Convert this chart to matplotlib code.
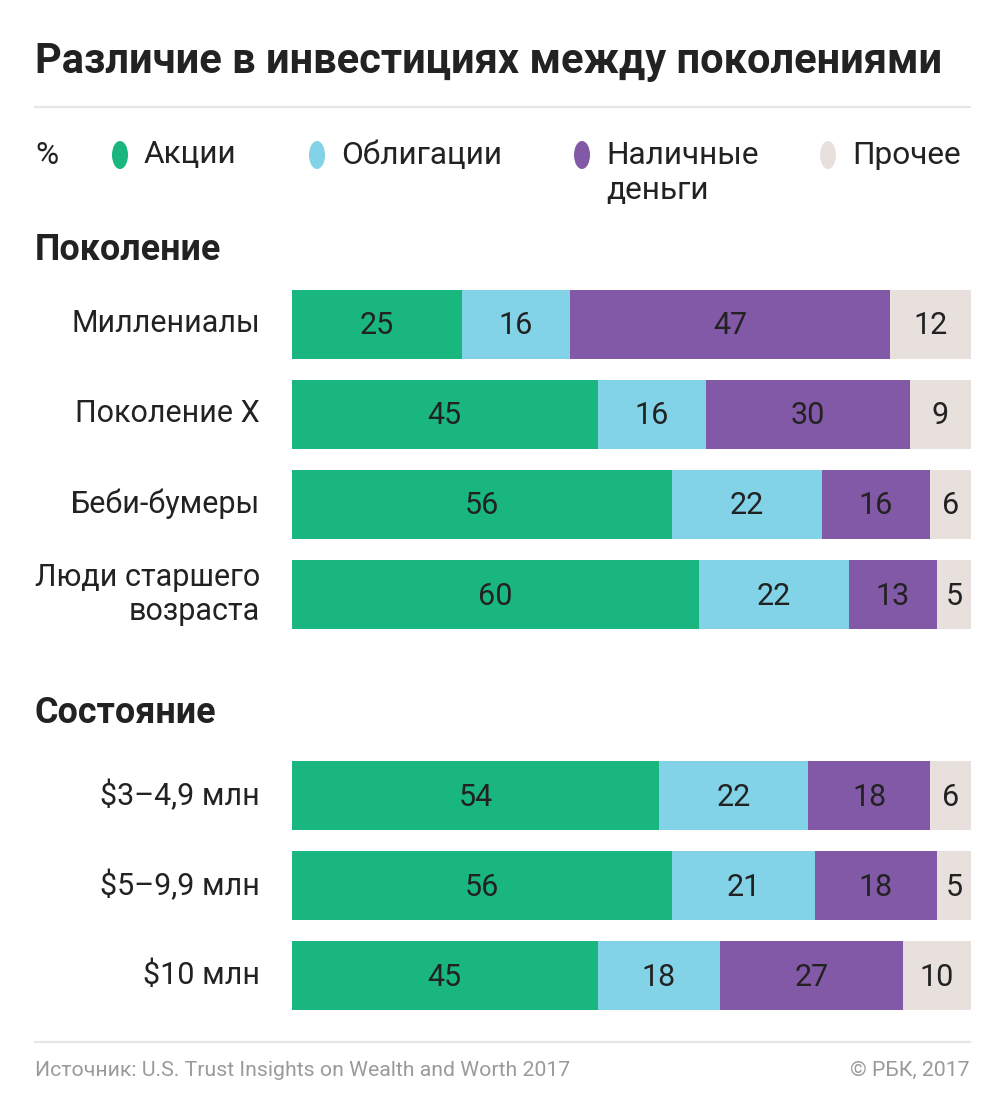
import matplotlib
matplotlib.use("Agg")
import matplotlib.pyplot as plt
from matplotlib.patches import Ellipse
from matplotlib.lines import Line2D

plt.rcParams['font.family'] = ['Roboto', 'DejaVu Sans']

# ---------------- data ----------------
series = ["Акции", "Облигации", "Наличные\nденьги", "Прочее"]
colors = ["#19b77f", "#82d3e8", "#8259a6", "#e8e0dc"]

gen_labels = ["Миллениалы", "Поколение X", "Беби-бумеры", "Люди старшего\nвозраста"]
gen_stocks = [25, 45, 56, 60]
gen_bonds = [16, 16, 22, 22]
gen_cash = [47, 30, 16, 13]
gen_other = [12, 9, 6, 5]

wealth_labels = ["$3–4,9 млн", "$5–9,9 млн", "$10 млн"]
wealth_stocks = [54, 56, 45]
wealth_bonds = [22, 21, 18]
wealth_cash = [18, 18, 27]
wealth_other = [6, 5, 10]

title = "Различие в инвестициях между поколениями"
section1 = "Поколение"
section2 = "Состояние"
source = "Источник: U.S. Trust Insights on Wealth and Worth 2017"
credit = "© РБК, 2017"

# ---------------- layout ----------------
W, H = 1005, 1103
fig = plt.figure(figsize=(W / 100, H / 100), dpi=100)
fig.patch.set_facecolor("white")

ov = fig.add_axes([0, 0, 1, 1])
ov.set_xlim(0, W)
ov.set_ylim(H, 0)
ov.axis("off")

TXT = "#222222"
LBL = 22
LEG = 22.8


def multiline(x, yc, text, step, **kw):
    lines = text.split("\n")
    n = len(lines)
    for k, ln in enumerate(lines):
        ov.text(x, yc + (k - (n - 1) / 2) * step, ln, va="center", **kw)


ov.text(35, 62, title, fontsize=30, fontweight="bold", color=TXT, va="center", ha="left")
ov.add_line(Line2D([35, 970], [107, 107], color="#e6e6e6", lw=1.5))

# legend
ov.text(35, 155, "%", fontsize=LEG, color=TXT, va="center", ha="left")
leg_x = [120, 317, 582, 828]
for x, lab, c in zip(leg_x, series, colors):
    ov.add_patch(Ellipse((x, 155), 16, 28, color=c, lw=0))
    lines = lab.split("\n")
    for k, ln in enumerate(lines):
        ov.text(x + 24, 155 + 35 * k, ln, fontsize=LEG, color=TXT, va="center", ha="left")

ov.text(35, 250, section1, fontsize=25.8, fontweight="bold", color=TXT, va="center", ha="left")
ov.text(35, 713, section2, fontsize=25.8, fontweight="bold", color=TXT, va="center", ha="left")

ov.add_line(Line2D([35, 970], [1042, 1042], color="#e6e6e6", lw=1.5))
ov.text(35, 1070, source, fontsize=15.3, color="#9a9a9a", va="center", ha="left")
ov.text(970, 1070, credit, fontsize=15.3, color="#9a9a9a", va="center", ha="right")

# bar axes: x in percent, y in row-offset units
x0, x1 = 292, 971
y_top, y_bot = 290, 1010
ax = fig.add_axes([x0 / W, 1 - y_bot / H, (x1 - x0) / W, (y_bot - y_top) / H])
ax.set_xlim(0, 100)
ax.set_ylim(y_bot, y_top)
ax.axis("off")

rows = [
    (gen_labels, [gen_stocks, gen_bonds, gen_cash, gen_other], [324, 414, 504, 594.5]),
    (wealth_labels, [wealth_stocks, wealth_bonds, wealth_cash, wealth_other], [795, 885, 975.5]),
]
bar_h = 69
for labels, vals, ys in rows:
    for i, (lab, y) in enumerate(zip(labels, ys)):
        left = 0
        for s, c in zip(vals, colors):
            v = s[i]
            ax.barh(y, v, left=left, height=bar_h, color=c, lw=0)
            ax.text(left + v / 2, y + 2, str(v), fontsize=LBL, color=TXT,
                    ha="center", va="center")
            left += v
        multiline(260, y, lab, 35, fontsize=LBL, color=TXT, ha="right")

fig.savefig("out.png", dpi=100, facecolor="white")
